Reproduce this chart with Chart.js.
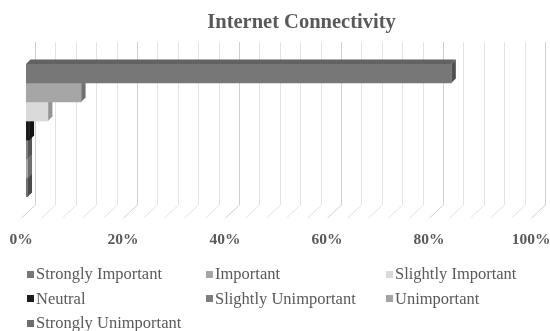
<!DOCTYPE html>
<html>
<head>
<meta charset="utf-8">
<script src="https://cdn.jsdelivr.net/npm/chart.js@4/dist/chart.umd.min.js"></script>
<style>
  html, body { margin: 0; padding: 0; background: #fff; }
  #wrap { position: relative; width: 550px; height: 331px; }
  #title {
    position: absolute; left: 0; top: 10px; width: 603px; text-align: center;
    font: bold 20.5px "Liberation Serif", "Times New Roman", serif; color: #595959;
  }
  #legend {
    position: absolute; left: 27px; top: 262px;
    display: grid; grid-template-columns: 179px 180px auto; grid-auto-rows: 24.5px;
    font: 16.5px "Liberation Serif", "Times New Roman", serif; color: #595959;
  }
  #legend .item { display: flex; align-items: center; white-space: nowrap; }
  #legend .box { width: 7px; height: 7px; margin-right: 2px; flex: none; }
</style>
</head>
<body>
<div id="wrap">
  <canvas id="chart" width="550" height="331"></canvas>
  <div id="title"></div>
  <div id="legend"></div>
</div>
<script>
// Internet Connectivity – share of responses per importance rating
const chartTitle = 'Internet Connectivity';
const categories = ['Internet Connectivity'];
const seriesNames = [
  'Strongly Important', 'Important', 'Slightly Important', 'Neutral',
  'Slightly Unimportant', 'Unimportant', 'Strongly Unimportant'
];
const seriesValues = [83.4, 10.8, 4.3, 0.7, 0.3, 0.3, 0.3];
const seriesColors = ['#777777', '#a6a6a6', '#dadada', '#1c1c1c', '#7e7e7e', '#a3a3a3', '#6e6e6e'];
const tickValues = [0, 20, 40, 60, 80, 100];

function shade(hex, f) {
  const n = parseInt(hex.slice(1), 16);
  const r = Math.round(((n >> 16) & 255) * f);
  const g = Math.round(((n >> 8) & 255) * f);
  const b = Math.round((n & 255) * f);
  return `rgb(${r},${g},${b})`;
}

// Depth of the pseudo-3D look
const DEPTH = 4.5;       // bar top/side face offset
const BACK_DX = 9;       // back wall offset from bar plane
const FRONT_DX = -5;     // floor front edge offset from bar plane

const threeD = {
  id: 'threeD',
  beforeDatasetsDraw(chart) {
    const { ctx, chartArea: a } = chart;
    const xs = chart.scales.x;
    const wallTop = a.top - 22, wallBottom = a.bottom + 8, floorFront = a.bottom + 21;
    ctx.save();
    ctx.lineWidth = 1;
    for (let v = 0; v <= 100; v += 4) {
      const x = Math.round(xs.getPixelForValue(v)) + 0.5;
      ctx.strokeStyle = v % 20 === 0 ? '#cfcfcf' : '#e3e3e3';
      ctx.beginPath();
      ctx.moveTo(x + BACK_DX, wallTop);
      ctx.lineTo(x + BACK_DX, wallBottom);
      ctx.lineTo(x + FRONT_DX, floorFront);
      ctx.stroke();
    }
    // top and side faces, drawn bottom bar first so the fronts above overlap them
    for (let i = chart.data.datasets.length - 1; i >= 0; i--) {
      const meta = chart.getDatasetMeta(i);
      const col = chart.data.datasets[i].backgroundColor;
      meta.data.forEach(bar => {
        const { x, y, base, height } = bar.getProps(['x', 'y', 'base', 'height'], true);
        const top = y - height / 2, bottom = y + height / 2;
        ctx.fillStyle = shade(col, 0.82);
        ctx.beginPath();
        ctx.moveTo(base, top);
        ctx.lineTo(base + DEPTH, top - DEPTH);
        ctx.lineTo(x + DEPTH, top - DEPTH);
        ctx.lineTo(x, top);
        ctx.closePath();
        ctx.fill();
        ctx.fillStyle = shade(col, 0.68);
        ctx.beginPath();
        ctx.moveTo(x, top);
        ctx.lineTo(x + DEPTH, top - DEPTH);
        ctx.lineTo(x + DEPTH, bottom - DEPTH);
        ctx.lineTo(x, bottom);
        ctx.closePath();
        ctx.fill();
      });
    }
    ctx.restore();
  }
};

const chart = new Chart(document.getElementById('chart'), {
  type: 'bar',
  data: {
    labels: categories,
    datasets: seriesNames.map((name, i) => ({
      label: name,
      data: [seriesValues[i]],
      backgroundColor: seriesColors[i],
      borderWidth: 0
    }))
  },
  options: {
    indexAxis: 'y',
    responsive: false,
    animation: false,
    events: [],
    layout: { padding: { top: 64, left: 26, right: 14, bottom: 20 } },
    datasets: { bar: { categoryPercentage: 1, barPercentage: 1 } },
    plugins: { legend: { display: false }, title: { display: false }, tooltip: { enabled: false } },
    scales: {
      y: { display: false },
      x: {
        min: 0, max: 100,
        afterBuildTicks(scale) {
          scale.ticks = tickValues.map(v => ({ value: v }));
        },
        afterFit(scale) {
          scale.paddingLeft = 0; scale.paddingRight = 0;
          scale.height = 114;
        },
        grid: { display: false },
        border: { display: false },
        ticks: {
          padding: 26,
          labelOffset: -5,
          maxRotation: 0,
          color: '#595959',
          font: { family: '"Liberation Serif", "Times New Roman", serif', size: 15.5, weight: 'bold' },
          callback: v => v + '%'
        }
      }
    }
  },
  plugins: [threeD]
});

document.getElementById('title').textContent = chartTitle;
const legendEl = document.getElementById('legend');
chart.data.datasets.forEach(ds => {
  const item = document.createElement('div');
  item.className = 'item';
  const box = document.createElement('span');
  box.className = 'box';
  box.style.background = ds.backgroundColor;
  const txt = document.createElement('span');
  txt.textContent = ds.label;
  item.appendChild(box);
  item.appendChild(txt);
  legendEl.appendChild(item);
});
</script>
</body>
</html>
